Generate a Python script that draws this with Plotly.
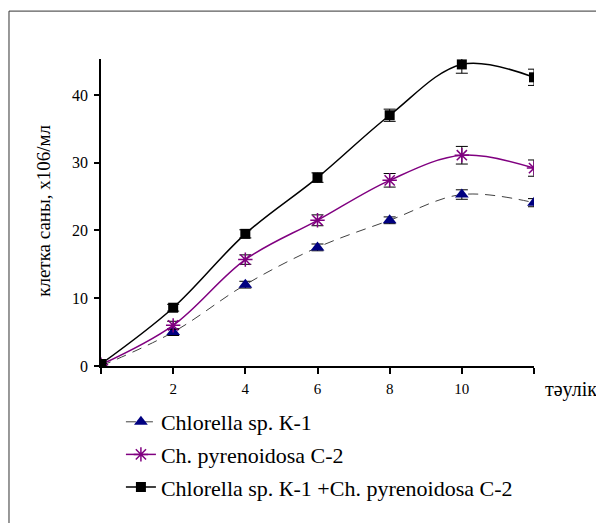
import plotly.graph_objects as go

days = [0, 2, 4, 6, 8, 10, 12]
k1 = [0.0, 5.0, 12.0, 17.5, 21.5, 25.3, 24.1]
k1_err = [0.2, 0.5, 0.5, 0.5, 0.5, 0.7, 0.6]
c2 = [0.2, 6.0, 15.7, 21.5, 27.4, 31.1, 29.2]
c2_err = [0.2, 0.6, 0.7, 0.8, 1.0, 1.3, 1.2]
mix = [0.3, 8.6, 19.5, 27.8, 37.0, 44.5, 42.6]
mix_err = [0.3, 0.5, 0.6, 0.7, 0.9, 1.3, 1.2]

names = ["Chlorella sp. К-1", "Ch. pyrenoidosa С-2", "Chlorella sp. К-1 +Ch. pyrenoidosa С-2"]
x_tickvals = [0, 2, 4, 6, 8, 10, 12]
x_ticktext = ["", "2", "4", "6", "8", "10", ""]
y_tickvals = [0, 10, 20, 30, 40]

FONT = "Liberation Serif"

fig = go.Figure()

def err(e):
    return dict(type="data", array=e, visible=True, color="black", thickness=1, width=6)

fig.add_trace(go.Scatter(
    x=days, y=k1, name=names[0], mode="lines+markers", legendgroup="a",
    line=dict(color="#404040", width=1, dash="10px,7px", shape="spline", smoothing=1),
    marker=dict(symbol="triangle-up", size=12, color="#000080"),
    error_y=err(k1_err)))
fig.add_trace(go.Scatter(
    x=days, y=c2, name=names[1], mode="lines+markers", legendgroup="b",
    line=dict(color="#800080", width=1.5, shape="spline", smoothing=1),
    marker=dict(symbol="asterisk-open", size=12, color="#800080", line=dict(color="#800080", width=1.5)),
    error_y=err(c2_err)))
fig.add_trace(go.Scatter(
    x=days, y=mix, name=names[2], mode="lines+markers", legendgroup="c",
    line=dict(color="black", width=1.5, shape="spline", smoothing=1),
    marker=dict(symbol="square", size=10, color="black"),
    error_y=err(mix_err)))

fig.update_layout(
    width=588, height=515,
    margin=dict(l=93, r=62, t=51, b=157),
    paper_bgcolor="white", plot_bgcolor="white",
    font=dict(family=FONT, color="black", size=15),
    showlegend=True,
    legend=dict(x=0.046, y=-0.114, xanchor="left", yanchor="top",
                font=dict(family=FONT, size=22, color="black"),
                tracegroupgap=1, bgcolor="rgba(0,0,0,0)"),
    xaxis=dict(range=[0, 12], tickvals=x_tickvals, ticktext=x_ticktext,
               showgrid=False, zeroline=False, showline=True, linecolor="black", linewidth=1.5,
               ticks="outside", ticklen=6, tickcolor="black", tickwidth=1.5,
               ticklabelstandoff=2, tickfont=dict(family=FONT, size=15)),
    yaxis=dict(range=[0, 45.3], tickvals=y_tickvals,
               showgrid=False, zeroline=False, showline=True, linecolor="black", linewidth=1.5,
               ticks="outside", ticklen=5, tickcolor="black", tickwidth=1.5,
               ticklabelstandoff=3, tickfont=dict(family=FONT, size=16)),
    annotations=[
        dict(text="клетка саны, х106/мл", xref="paper", yref="paper", x=-0.132, y=0.505,
             xanchor="center", yanchor="middle",
             textangle=-90, showarrow=False, font=dict(family=FONT, size=19)),
        dict(text="тәулік", xref="paper", yref="paper", x=1.085, y=-0.078,
             xanchor="center", yanchor="middle",
             showarrow=False, font=dict(family=FONT, size=20)),
    ],
    shapes=[dict(type="rect", xref="paper", yref="paper",
                 x0=-0.2125, x1=1.2, y0=-0.6, y1=1.156,
                 line=dict(color="#333333", width=1))],
)

fig.write_html("out.html")
